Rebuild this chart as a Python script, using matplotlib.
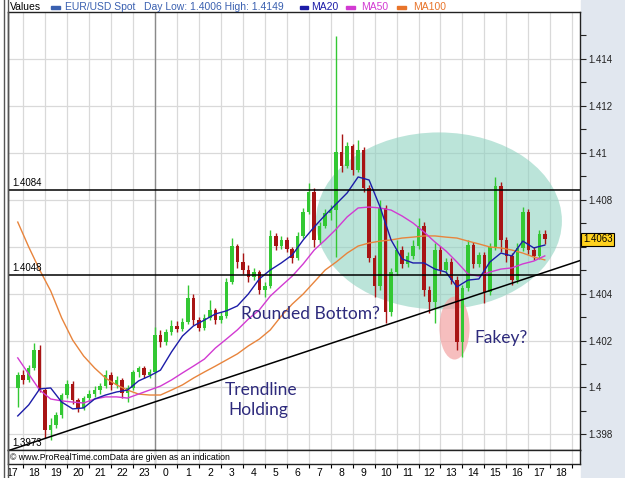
import numpy as np
import matplotlib
matplotlib.use("Agg")
import matplotlib.pyplot as plt
from matplotlib.patches import Ellipse, Rectangle
from matplotlib.lines import Line2D
from matplotlib.transforms import blended_transform_factory

plt.rcParams['font.family'] = ['Liberation Sans', 'DejaVu Sans']

# EUR/USD 15 min candles, time in hours counted from 17:00
opens = [1.39998, 1.40053, 1.40032, 1.40083, 1.40160, 1.39989, 1.39819, 1.39840,
         1.39883, 1.39968, 1.40015, 1.39947, 1.39913, 1.39955, 1.39972, 1.39989,
         1.40006, 1.40053, 1.40011, 1.40032, 1.39977, 1.39998, 1.40066, 1.40083,
         1.40053, 1.40066, 1.40223, 1.40194, 1.40236, 1.40262, 1.40249, 1.40279,
         1.40381, 1.40287, 1.40253, 1.40296, 1.40330, 1.40287, 1.40304, 1.40449,
         1.40602, 1.40534, 1.40500, 1.40470, 1.40491, 1.40415, 1.40432, 1.40645,
         1.40602, 1.40628, 1.40589, 1.40551, 1.40645, 1.40747, 1.40832, 1.40628,
         1.40687, 1.40743, 1.40755, 1.41002, 1.40943, 1.41028, 1.40926, 1.41011,
         1.40849, 1.40551, 1.40432, 1.40764, 1.40321, 1.40491, 1.40585, 1.40526,
         1.40560, 1.40602, 1.40687, 1.40415, 1.40364, 1.40585, 1.40500, 1.40534,
         1.40457, 1.40194, 1.40423, 1.40606, 1.40526, 1.40564, 1.40406, 1.40598,
         1.40857, 1.40628, 1.40560, 1.40457, 1.40594, 1.40747, 1.40585, 1.40560,
         1.40653]
highs = [1.40066, 1.40075, 1.40096, 1.40189, 1.40181, 1.39998, 1.39870, 1.39896,
         1.39977, 1.40032, 1.40028, 1.39955, 1.39964, 1.39989, 1.40006, 1.40019,
         1.40075, 1.40066, 1.40049, 1.40040, 1.40011, 1.40075, 1.40092, 1.40092,
         1.40079, 1.40257, 1.40245, 1.40249, 1.40287, 1.40283, 1.40296, 1.40436,
         1.40398, 1.40300, 1.40313, 1.40372, 1.40338, 1.40321, 1.40466, 1.40636,
         1.40611, 1.40572, 1.40521, 1.40509, 1.40500, 1.40449, 1.40670, 1.40657,
         1.40645, 1.40640, 1.40598, 1.40662, 1.40764, 1.40870, 1.40849, 1.40704,
         1.40760, 1.40777, 1.41496, 1.41079, 1.41045, 1.41036, 1.41053, 1.41023,
         1.40862, 1.40564, 1.40798, 1.40777, 1.40509, 1.40628, 1.40602, 1.40577,
         1.40628, 1.40721, 1.40704, 1.40432, 1.40615, 1.40602, 1.40551, 1.40551,
         1.40474, 1.40436, 1.40628, 1.40619, 1.40577, 1.40577, 1.40615, 1.40896,
         1.40874, 1.40640, 1.40572, 1.40615, 1.40768, 1.40760, 1.40598, 1.40670,
         1.40670]
lows = [1.39917, 1.40015, 1.40023, 1.40075, 1.39981, 1.39785, 1.39777, 1.39828,
        1.39870, 1.39955, 1.39930, 1.39896, 1.39904, 1.39938, 1.39960, 1.39972,
        1.39998, 1.39989, 1.39998, 1.39955, 1.39938, 1.39989, 1.40045, 1.40040,
        1.40040, 1.40057, 1.40172, 1.40181, 1.40223, 1.40236, 1.40240, 1.40270,
        1.40266, 1.40240, 1.40245, 1.40287, 1.40270, 1.40274, 1.40296, 1.40440,
        1.40509, 1.40483, 1.40449, 1.40457, 1.40398, 1.40385, 1.40423, 1.40585,
        1.40589, 1.40577, 1.40530, 1.40543, 1.40636, 1.40738, 1.40598, 1.40611,
        1.40679, 1.40713, 1.40555, 1.40917, 1.40934, 1.40904, 1.40917, 1.40832,
        1.40534, 1.40385, 1.40415, 1.40274, 1.40304, 1.40479, 1.40509, 1.40513,
        1.40547, 1.40589, 1.40389, 1.40317, 1.40274, 1.40483, 1.40487, 1.40440,
        1.40160, 1.40130, 1.40411, 1.40509, 1.40513, 1.40360, 1.40394, 1.40585,
        1.40577, 1.40534, 1.40436, 1.40445, 1.40581, 1.40568, 1.40543, 1.40547,
        1.40611]
closes = [1.40053, 1.40032, 1.40083, 1.40160, 1.39989, 1.39819, 1.39840, 1.39883,
          1.39968, 1.40015, 1.39947, 1.39913, 1.39955, 1.39972, 1.39989, 1.40006,
          1.40053, 1.40011, 1.40032, 1.39977, 1.39998, 1.40066, 1.40083, 1.40053,
          1.40066, 1.40223, 1.40194, 1.40236, 1.40262, 1.40249, 1.40279, 1.40381,
          1.40287, 1.40253, 1.40296, 1.40330, 1.40287, 1.40304, 1.40449, 1.40602,
          1.40534, 1.40500, 1.40470, 1.40491, 1.40415, 1.40432, 1.40645, 1.40602,
          1.40628, 1.40589, 1.40551, 1.40645, 1.40747, 1.40832, 1.40628, 1.40687,
          1.40743, 1.40755, 1.41002, 1.40943, 1.41028, 1.40926, 1.41011, 1.40849,
          1.40551, 1.40432, 1.40764, 1.40321, 1.40491, 1.40585, 1.40526, 1.40560,
          1.40602, 1.40687, 1.40415, 1.40364, 1.40585, 1.40500, 1.40534, 1.40457,
          1.40194, 1.40423, 1.40606, 1.40526, 1.40564, 1.40406, 1.40598, 1.40857,
          1.40628, 1.40560, 1.40457, 1.40594, 1.40747, 1.40585, 1.40560, 1.40653,
          1.40630]

# moving averages, read every half hour
ma20 = [1.39879, 1.39926, 1.39994, 1.39998, 1.39938, 1.39909, 1.39913, 1.39951,
        1.39968, 1.39981, 1.39989, 1.40028, 1.40049, 1.40074, 1.40151, 1.40219,
        1.40262, 1.40287, 1.40313, 1.40326, 1.40347, 1.40398, 1.40462, 1.40500,
        1.40530, 1.40564, 1.40628, 1.40683, 1.40734, 1.40781, 1.40828, 1.40896,
        1.40883, 1.40768, 1.40628, 1.40547, 1.40530, 1.40530, 1.40504, 1.40491,
        1.40428, 1.40457, 1.40462, 1.40534, 1.40572, 1.40560, 1.40623, 1.40594,
        1.40606]
ma50 = [1.40126, 1.40057, 1.39989, 1.39951, 1.39943, 1.39938, 1.39934, 1.39951,
        1.39960, 1.39960, 1.39955, 1.39972, 1.39989, 1.40006, 1.40032, 1.40062,
        1.40091, 1.40121, 1.40168, 1.40206, 1.40245, 1.40291, 1.40330, 1.40389,
        1.40432, 1.40474, 1.40526, 1.40585, 1.40628, 1.40674, 1.40726, 1.40764,
        1.40768, 1.40764, 1.40755, 1.40730, 1.40700, 1.40662, 1.40619, 1.40581,
        1.40534, 1.40483, 1.40474, 1.40491, 1.40504, 1.40509, 1.40526, 1.40538,
        1.40560]
ma100 = [1.40704, 1.40598, 1.40500, 1.40411, 1.40296, 1.40202, 1.40134, 1.40083,
         1.40040, 1.40011, 1.39989, 1.39972, 1.39968, 1.39968, 1.39989, 1.40011,
         1.40040, 1.40066, 1.40091, 1.40117, 1.40143, 1.40177, 1.40206, 1.40245,
         1.40304, 1.40355, 1.40398, 1.40449, 1.40500, 1.40534, 1.40572, 1.40602,
         1.40615, 1.40623, 1.40628, 1.40636, 1.40640, 1.40645, 1.40645, 1.40640,
         1.40636, 1.40623, 1.40611, 1.40598, 1.40594, 1.40585, 1.40572, 1.40555,
         1.40543]

hour_labels = ['17', '18', '19', '20', '21', '22', '23', '0', '1', '2', '3', '4', '5',
               '6', '7', '8', '9', '10', '11', '12', '13', '14', '15', '16', '17', '18']
levels = [1.4084, 1.4048]
trend_x = [0.28, 26.35]
trend_y = [1.3973, 1.4054]
last_price = 1.4063

candle_t = 0.75 + 0.25 * np.arange(len(closes))
ma_t = 0.75 + 0.5 * np.arange(len(ma20))

W, H = 625, 478
fig = plt.figure(figsize=(W / 100, H / 100), dpi=100)
fig.patch.set_facecolor('white')
fig.add_artist(Rectangle((581 / W, 0), 1 - 581 / W, 1, transform=fig.transFigure,
                         color='#e1e7ef', zorder=-5))
for px in (3.5, 7.5):
    fig.add_artist(Line2D([px / W] * 2, [0, 1], transform=fig.transFigure, color='#555555', lw=1))

L, R = 7.5, 580
ax = fig.add_axes([L / W, 1 - 450 / H, (R - L) / W, (450 - 12) / H])
strip = fig.add_axes([L / W, 1 - 464 / H, (R - L) / W, 14 / H])
xlim = (0.283, 26.354)
ax.set_xlim(*xlim)
ax.set_ylim(1.39734, 1.41598)
strip.set_xlim(*xlim)
strip.set_ylim(0, 1)

# grid
ax.set_xticks(range(1, 27))
ax.tick_params(axis='x', length=0, labelbottom=False)
ax.grid(True, color='#d9d9d9', lw=0.9, zorder=0)
ax.axvline(7, color='#8a8a8a', lw=1, zorder=0.6)
ax.yaxis.tick_right()
yt = np.arange(1.398, 1.4141, 0.002)
# the 1.406 label sits under the last price tag
ylabels = ['' if abs(v - last_price) < 0.0005 else f"{round(v, 3):g}" for v in yt]
ax.set_yticks(yt, labels=ylabels)
ax.set_yticks(np.arange(1.399, 1.4151, 0.002), minor=True)
ax.tick_params(axis='y', which='both', direction='out', length=4, width=0.8,
               labelsize=7, pad=2, colors='#222222')
ax.set_axisbelow(True)

strip.set_xticks(range(1, 27))
strip.set_xticks(np.arange(26) + 0.5, labels=hour_labels, minor=True)
strip.tick_params(axis='x', which='major', length=3, direction='out', labelbottom=False)
strip.tick_params(axis='x', which='minor', length=0, labelsize=7.5, pad=3)
strip.set_yticks([])
strip.grid(True, axis='x', color='#d9d9d9', lw=0.9)
strip.axvline(7, color='#8a8a8a', lw=1, zorder=0.6)
strip.text(0.005, 0.45, '\u00a9 www.ProRealTime.comData are given as an indication',
           transform=strip.transAxes, fontsize=6.3, va='center', ha='left')

for a in (ax, strip):
    for s in a.spines.values():
        s.set_color('#222222')
        s.set_linewidth(1)

# annotations behind the candles
ax.add_patch(Ellipse((19.93, 1.40709), 11.2, 0.00753, facecolor='#8fd2c0', alpha=0.6,
                     lw=0, zorder=1))
ax.add_patch(Ellipse((20.64, 1.40253), 1.37, 0.00268, facecolor='#f3a3a3', alpha=0.7,
                     lw=0, zorder=1))

# candles
o = np.array(opens)
c = np.array(closes)
cols = ['#33c833' if cc >= oo else '#a81414' for oo, cc in zip(o, c)]
ax.vlines(candle_t, lows, highs, colors=cols, lw=1, zorder=3)
ax.bar(candle_t, c - o, bottom=o, width=0.16, color=cols, lw=0, zorder=4)

ax.plot(ma_t, ma100, color='#e8843c', lw=1, zorder=5)
ax.plot(ma_t, ma50, color='#d23ad2', lw=1, zorder=5)
ax.plot(ma_t, ma20, color='#1c1ca8', lw=1, zorder=5)

for lv in levels:
    ax.axhline(lv, color='black', lw=1.1, zorder=6)
    ax.text(0.49, lv + 0.00009, f"{lv:.4f}", fontsize=7, va='bottom', ha='left', zorder=7)
ax.plot(trend_x, trend_y, color='black', lw=1.1, zorder=6)
ax.text(0.49, 1.39751, '1.3973', fontsize=7, va='baseline', ha='left', zorder=7)

note = dict(family=['Lato', 'DejaVu Sans'], fontsize=12.5, color='#2d2a7c', ha='center',
            va='center', zorder=8)
ax.text(14.10, 1.40313, 'Rounded Bottom?', **note)
ax.text(22.76, 1.40211, 'Fakey?', **note)
ax.text(11.83, 1.39989, 'Trendline', **note)
ax.text(11.69, 1.39904, 'Holding', **note)

tr = blended_transform_factory(ax.transAxes, ax.transData)
ax.text(1.005, last_price, f"{last_price:.4f}", transform=tr, fontsize=7, va='center',
        ha='left', clip_on=False, zorder=10,
        bbox=dict(boxstyle='square,pad=0.2', fc='#ffd21e', ec='black', lw=0.8))

# legend row
ty = 1 - 7 / H
fig.text(10 / W, ty, 'Values', fontsize=7.5, va='center', color='black')
items = [(51, 60, '#3a60b0', 65, 'EUR/USD Spot  '),
         (300, 308, '#1c1ca8', 311, 'MA20'),
         (346, 355, '#d23ad2', 361, 'MA50'),
         (397, 406, '#e8742a', 413, 'MA100')]
for x0, x1, col, tx, label in items:
    fig.add_artist(Rectangle((x0 / W, 1 - 9 / H), (x1 - x0) / W, 3 / H,
                             transform=fig.transFigure, color=col))
    fig.text(tx / W, ty, label, fontsize=7.5, va='center', color=col)
fig.text(144 / W, ty, 'Day Low: 1.4006 High: 1.4149', fontsize=7.5, va='center',
         color='#3a60b0')

fig.savefig('out.png', dpi=100)
